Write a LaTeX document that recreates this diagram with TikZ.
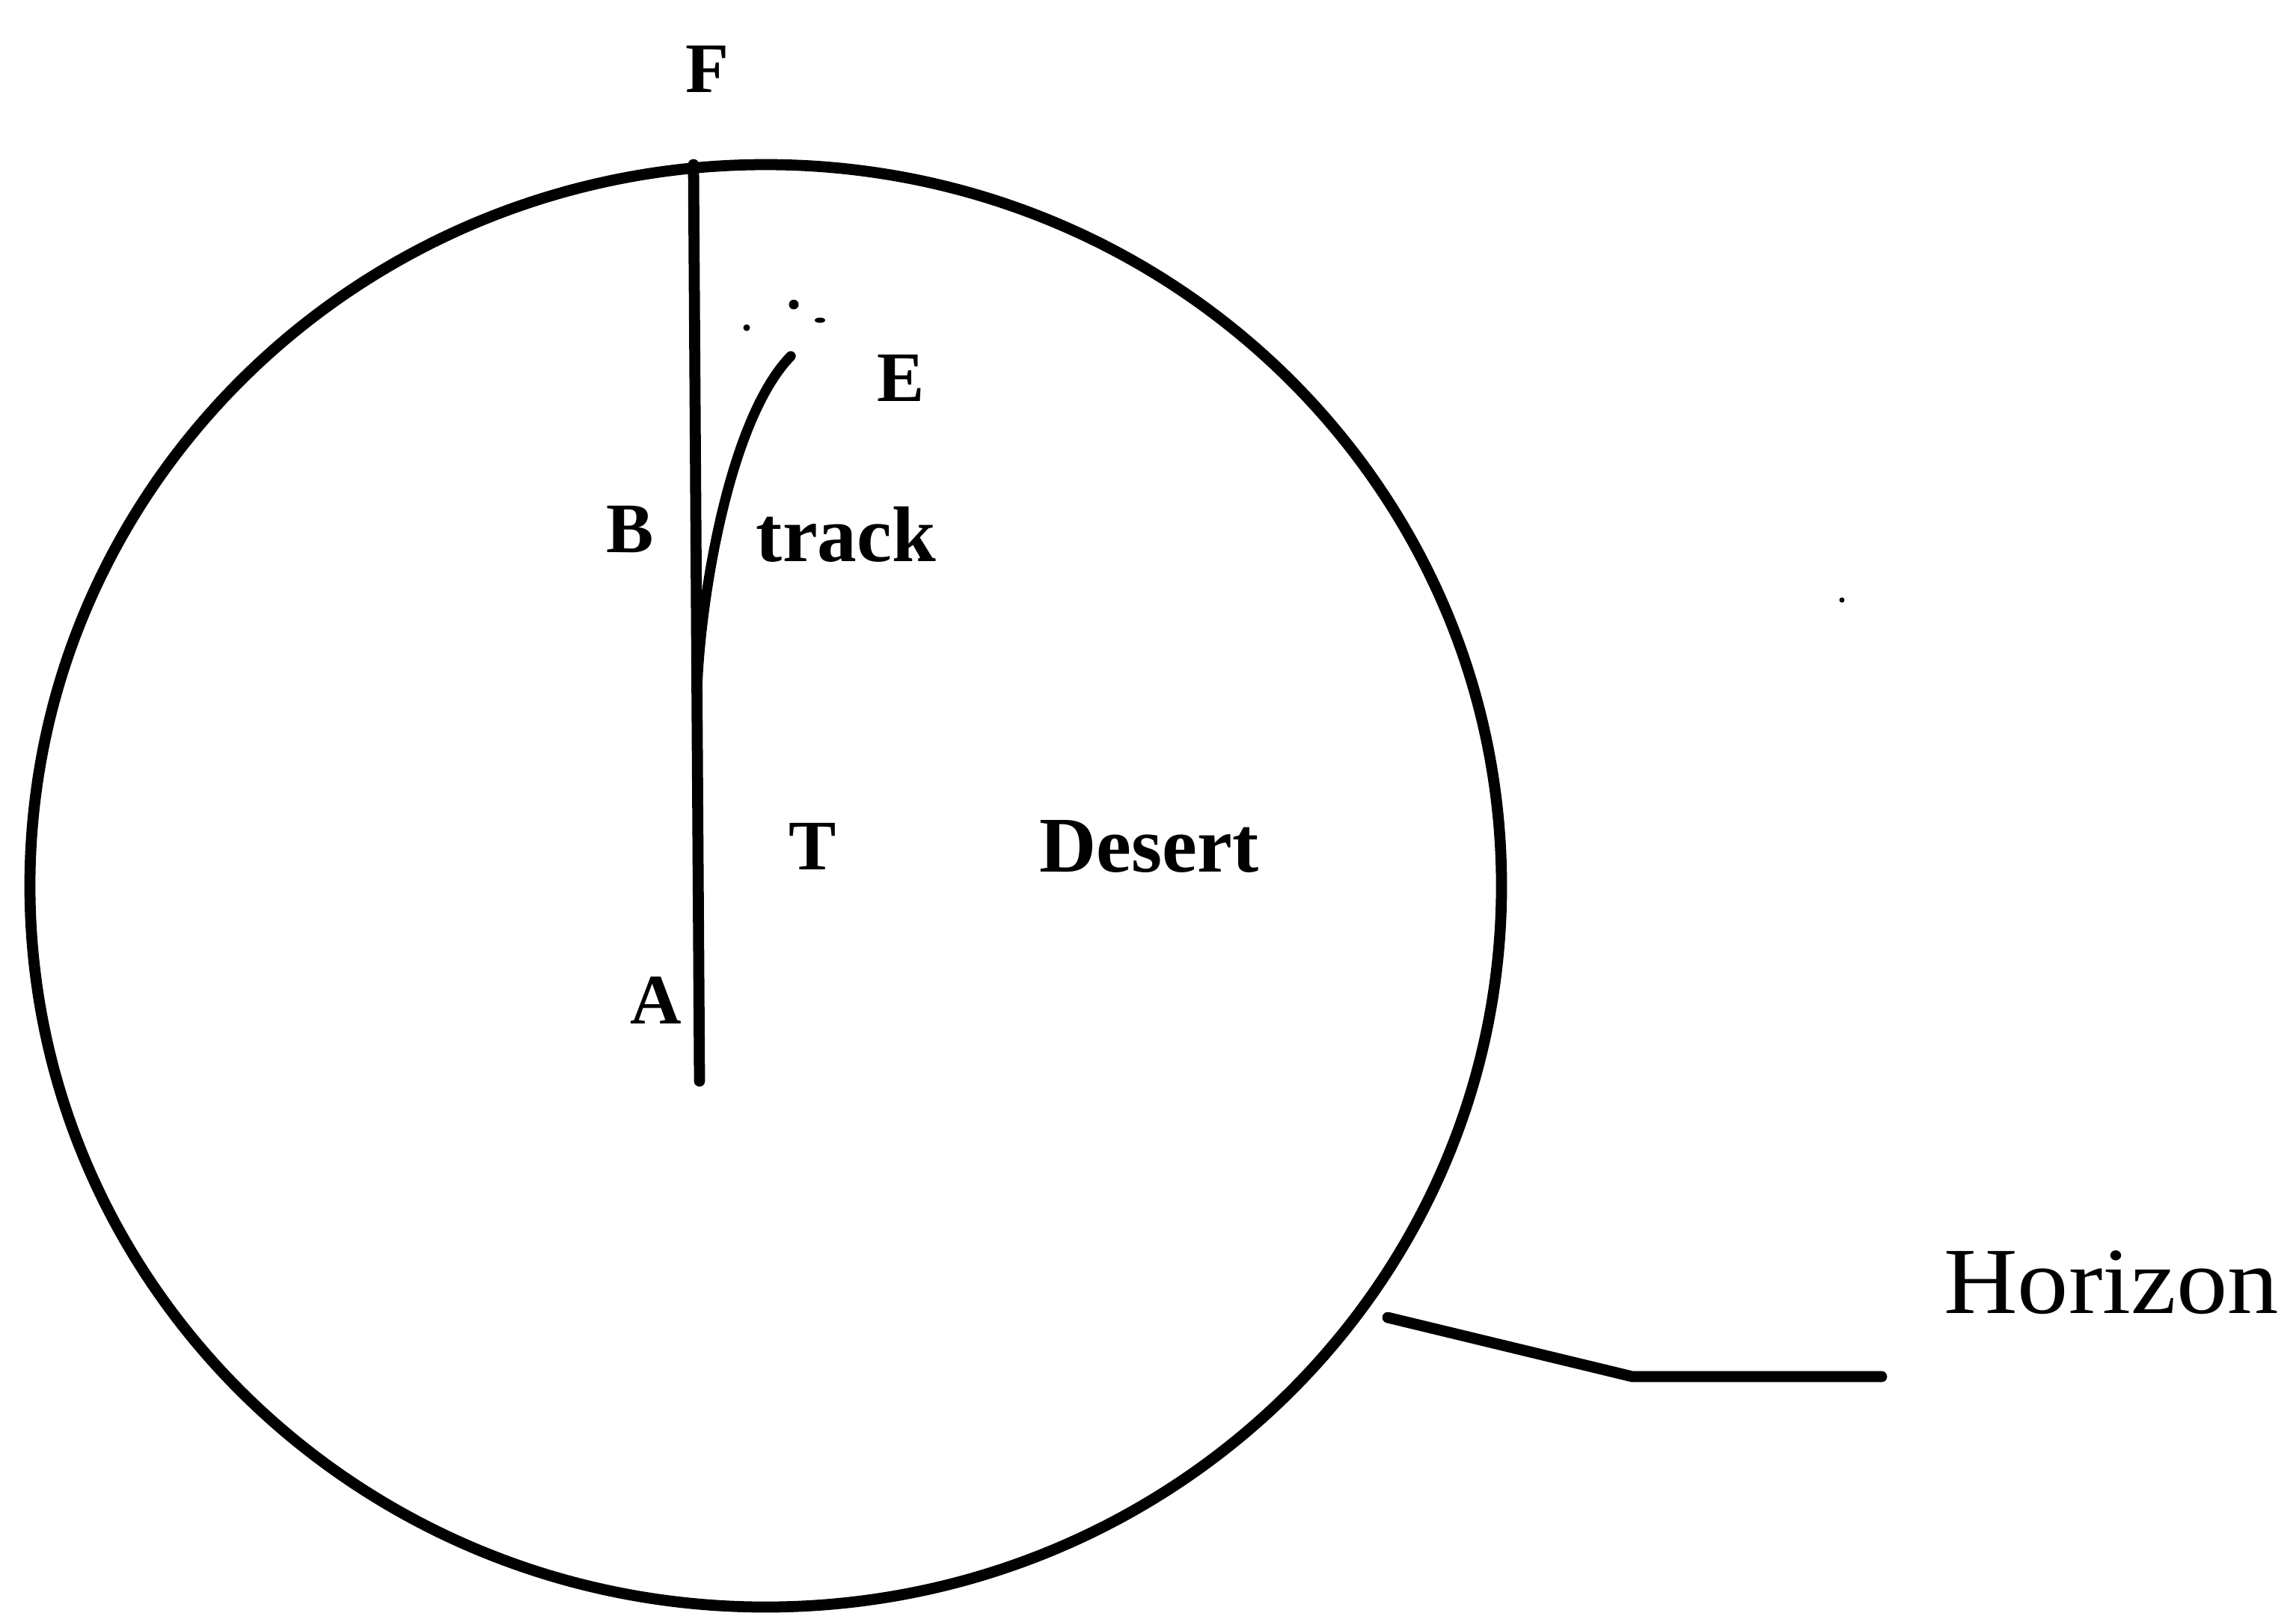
\documentclass[tikz,border=0pt]{standalone}
\usepackage{fontspec}
\setmainfont{Liberation Serif}
\tikzset{
  ink/.style={line width=4.2pt, line cap=round, line join=round},
  lab/.style={font=\fontsize{27}{30}\selectfont\bfseries, inner sep=0pt},
  word/.style={font=\fontsize{30}{34}\selectfont\bfseries, inner sep=0pt},
  speck/.style={fill=black}
}
\begin{document}
\begin{tikzpicture}
\useasboundingbox (0,0) rectangle (30.69,-21.55);
% horizon circle
\draw[ink] (10.235,-11.84) ellipse [x radius=9.835, y radius=9.64];
% main line F--A
\coordinate (top) at (9.27,-2.20);
\coordinate (bot) at (9.35,-14.45);
\draw[ink] (top) -- (bot);
\draw[ink, line width=2pt] (9.33,-9.2) -- (9.36,-14.4);
% track curve
\coordinate (fork) at (9.32,-9.20);
\coordinate (tend) at (10.57,-4.76);
\draw[ink, line width=3.8pt] (fork) .. controls (9.36,-8.0) and (9.75,-5.6) .. (tend);
% specks near E
\fill[speck] (9.98,-4.38) circle (0.045);
\fill[speck] (10.61,-4.07) circle (0.065);
\fill[speck] (10.96,-4.28) ellipse [x radius=0.07, y radius=0.035];
\fill[speck] (24.62,-8.02) circle (0.035);
% labels
\node[lab] (F) at (9.45,-0.92) {F};
\node[lab] (E) at (12.04,-5.05) {E};
\node[lab] (B) at (8.42,-7.08) {B};
\node[word] (track) at (11.31,-7.14) {track};
\node[lab] (T) at (10.86,-11.31) {T};
\node[word] (desert) at (15.36,-11.31) {Desert};
\node[lab] (A) at (8.77,-13.37) {A};
\node[font=\fontsize{36}{40}\selectfont, inner sep=0pt, xscale=1.08] (hor) at (28.22,-17.14) {Horizon};
% leader
\coordinate (h1) at (18.55,-17.61);
\coordinate (h2) at (21.82,-18.40);
\coordinate (h3) at (25.15,-18.40);
\draw[ink] (h1) -- (h2) -- (h3);
\end{tikzpicture}
\end{document}
